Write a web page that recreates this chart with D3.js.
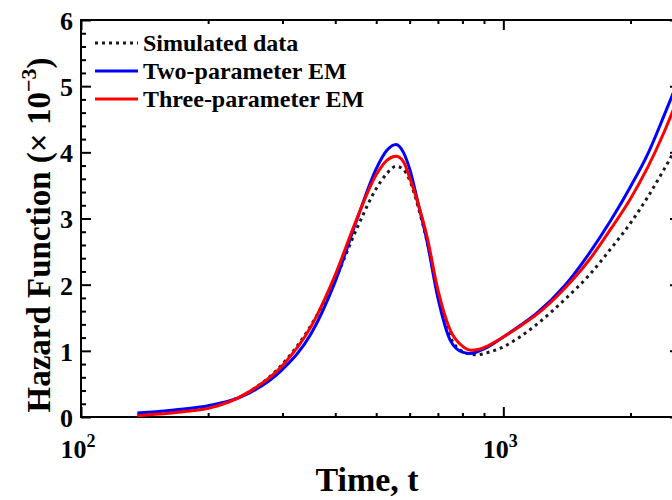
<!DOCTYPE html>
<html>
<head>
<meta charset="utf-8">
<title>Hazard function</title>
<script src="https://cdnjs.cloudflare.com/ajax/libs/d3/7.8.5/d3.min.js"></script>
<style>
  body { margin: 0; background: #fff; }
  svg text { font-family: "Liberation Serif", "Times New Roman", serif; font-weight: bold; fill: #000; }
</style>
</head>
<body>
<svg id="chart" width="672" height="500"></svg>
<script>
// time, t
var time = [136, 150, 175, 200, 250, 300, 350, 400, 450, 500, 530, 557, 580, 600, 630, 660,
            700, 750, 800, 836, 870, 900, 1000, 1100, 1200, 1400, 1600, 1800, 2000, 2200, 2400, 2620];
// hazard (x 10^-3)
var simulated = [0.03, 0.05, 0.09, 0.14, 0.38, 0.80, 1.38, 2.08, 2.85, 3.45, 3.68, 3.79, 3.74, 3.58, 3.15, 2.65,
                 1.85, 1.20, 0.99, 0.95, 0.94, 0.96, 1.06, 1.22, 1.40, 1.78, 2.15, 2.55, 2.93, 3.33, 3.74, 4.18];
var twoParam = [0.06, 0.08, 0.12, 0.17, 0.36, 0.72, 1.25, 2.05, 2.98, 3.75, 4.03, 4.12, 4.00, 3.75, 3.20, 2.65,
                1.80, 1.15, 0.98, 0.96, 0.99, 1.03, 1.21, 1.39, 1.57, 1.99, 2.48, 2.98, 3.48, 3.98, 4.55, 5.15];
var threeParam = [0.02, 0.04, 0.08, 0.13, 0.38, 0.78, 1.36, 2.15, 3.00, 3.66, 3.88, 3.94, 3.86, 3.62, 3.20, 2.72,
                  1.92, 1.30, 1.07, 1.01, 1.02, 1.05, 1.21, 1.38, 1.55, 1.95, 2.38, 2.85, 3.30, 3.78, 4.30, 4.90];

var xMajor = [100, 1000];
var xMajorExp = ["2", "3"];
var xMinor = [200, 300, 400, 500, 600, 700, 800, 900, 2000];
var yMajor = [0, 1, 2, 3, 4, 5, 6];
var yMinor = d3.range(0, 30).map(function(i) { return i * 0.2; }).filter(function(v) { return Math.abs(v - Math.round(v)) > 0.01; });

var legendNames = ["Simulated data", "Two-parameter EM", "Three-parameter EM"];

var L = 81, R = 680, T = 20, B = 417;
var svg = d3.select("#chart");

var x = d3.scaleLog().domain([100, 2620]).range([L, R]);
var y = d3.scaleLinear().domain([0, 6]).range([B, T]);

function tidy(g) {
  g.select(".domain").remove();
  g.selectAll(".tick line").attr("stroke", "#000").attr("stroke-width", 2);
}

// ticks, pointing inward on all four sides
svg.append("g").attr("transform", "translate(0," + B + ")")
  .call(d3.axisBottom(x).tickValues(xMajor).tickSize(-10).tickFormat("")).call(tidy);
svg.append("g").attr("transform", "translate(0," + B + ")")
  .call(d3.axisBottom(x).tickValues(xMinor).tickSize(-4).tickFormat("")).call(tidy);
svg.append("g").attr("transform", "translate(0," + T + ")")
  .call(d3.axisTop(x).tickValues(xMajor).tickSize(-10).tickFormat("")).call(tidy);
svg.append("g").attr("transform", "translate(0," + T + ")")
  .call(d3.axisTop(x).tickValues(xMinor).tickSize(-4).tickFormat("")).call(tidy);
svg.append("g").attr("transform", "translate(" + L + ",0)")
  .call(d3.axisLeft(y).tickValues(yMajor).tickSize(-10).tickFormat("")).call(tidy);
svg.append("g").attr("transform", "translate(" + L + ",0)")
  .call(d3.axisLeft(y).tickValues(yMinor).tickSize(-5).tickFormat("")).call(tidy);
svg.append("g").attr("transform", "translate(" + R + ",0)")
  .call(d3.axisRight(y).tickValues(yMajor).tickSize(-10).tickFormat("")).call(tidy);
svg.append("g").attr("transform", "translate(" + R + ",0)")
  .call(d3.axisRight(y).tickValues(yMinor).tickSize(-5).tickFormat("")).call(tidy);

// box
svg.append("rect").attr("x", L).attr("y", T).attr("width", R - L).attr("height", B - T)
  .attr("fill", "none").attr("stroke", "#000").attr("stroke-width", 2);

// tick labels
svg.selectAll(".ylab").data(yMajor).enter().append("text")
  .attr("x", 73).attr("y", function(d) { return y(d); })
  .attr("dy", "0.38em").attr("text-anchor", "end").attr("font-size", 26)
  .text(function(d) { return d; });

xMajor.forEach(function(v, i) {
  var t = svg.append("text").attr("x", x(v) - 3).attr("y", 458)
    .attr("text-anchor", "middle").attr("font-size", 26);
  t.append("tspan").text("10");
  t.append("tspan").attr("dy", -11).attr("font-size", 18).text(xMajorExp[i]);
});

// axis labels
svg.append("text").attr("x", 367).attr("y", 491).attr("text-anchor", "middle")
  .attr("font-size", 34).text("Time, t");

var yl = svg.append("text").attr("transform", "translate(50,235) rotate(-90)")
  .attr("text-anchor", "middle").attr("font-size", 33);
yl.append("tspan").text("Hazard Function (\u00d7 10");
yl.append("tspan").attr("dy", -14).attr("font-size", 22).text("\u22123");
yl.append("tspan").attr("dy", 14).text(")");

// curves
function series(vals) {
  return time.map(function(t, i) { return [t, vals[i]]; });
}
var line = d3.line()
  .x(function(d) { return x(d[0]); })
  .y(function(d) { return y(d[1]); })
  .curve(d3.curveMonotoneX);

svg.append("path").datum(series(simulated)).attr("d", line)
  .attr("fill", "none").attr("stroke", "#1a1a1a").attr("stroke-width", 3).attr("stroke-dasharray", "3,4");
svg.append("path").datum(series(twoParam)).attr("d", line)
  .attr("fill", "none").attr("stroke", "#0000ff").attr("stroke-width", 3);
svg.append("path").datum(series(threeParam)).attr("d", line)
  .attr("fill", "none").attr("stroke", "#ff0000").attr("stroke-width", 3);

// legend
var legStyles = [
  { stroke: "#1a1a1a", dash: "3,4" },
  { stroke: "#0000ff", dash: null },
  { stroke: "#ff0000", dash: null }
];
legendNames.forEach(function(name, i) {
  var ly = 43 + i * 28;
  svg.append("line").attr("x1", 95).attr("x2", 138).attr("y1", ly).attr("y2", ly)
    .attr("stroke", legStyles[i].stroke).attr("stroke-width", 3)
    .attr("stroke-dasharray", legStyles[i].dash);
  svg.append("text").attr("x", 143).attr("y", ly + 8).attr("font-size", 24).text(name);
});
</script>
</body>
</html>
